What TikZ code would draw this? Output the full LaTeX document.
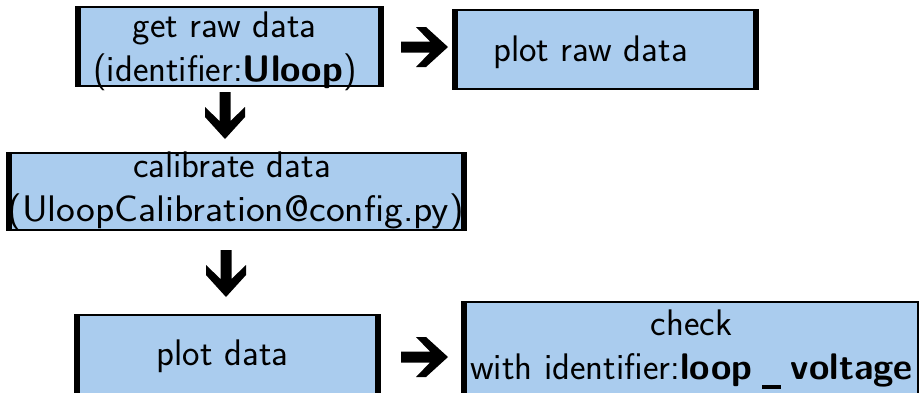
\documentclass[tikz,border=0pt]{standalone}
\usepackage{fontspec}
\definecolor{boxblue}{RGB}{170,204,238}
\tikzset{
  boxshape/.style={draw=black, line width=1.3pt, fill=boxblue, inner sep=0pt},
  sidebar/.style={fill=black},
  lbl/.style={font=\fontsize{37}{44}\selectfont\sffamily, inner sep=0pt, anchor=base},
  pics/heavyarrow/.style={code={
    \fill[black] (-47,-5.5) -- (-18,-5.5) -- (-32,-20) -- (-22,-20) -- (0,0)
      -- (-22,20) -- (-32,20) -- (-18,5.5) -- (-47,5.5) -- cycle;}}
}
\begin{document}
\begin{tikzpicture}[x=1pt,y=-1pt]
\useasboundingbox (0,0) rectangle (919,392);
\clip (0,0) rectangle (919,392);
% boxes
\node[boxshape, minimum width=307pt, minimum height=79pt] (b1) at (229.5,46.5) {};
\node[boxshape, minimum width=305pt, minimum height=79pt] (b2) at (605.5,49.5) {};
\node[boxshape, minimum width=459pt, minimum height=77pt] (b3) at (236.5,191.5) {};
\node[boxshape, minimum width=305pt, minimum height=100pt] (b4) at (227.5,365) {};
\node[boxshape, minimum width=460pt, minimum height=110pt] (b5) at (692,357) {};
% thick side bars
\foreach \b in {b1,b2,b3,b4,b5}{
  \fill[sidebar] (\b.north west) rectangle ([xshift=6pt]\b.south west);
  \fill[sidebar] (\b.north east) rectangle ([xshift=-6pt]\b.south east);
}
% texts
\node[lbl] (t1a) at (224.5,37) {get raw data};
\node[lbl] (t1b) at (225,81) {(identifier:\textbf{Uloop})};
\node[lbl] (t2) at (590.5,61) {plot raw data};
\node[lbl] (t3a) at (232,177) {calibrate data};
\node[lbl] (t3b) at (235.5,221) {\scalebox{1.08}[1]{(UloopCalibration@config.py)}};
\node[lbl] (t4) at (222.5,365) {plot data};
\node[lbl] (t5a) at (691.5,335) {check};
\node[lbl] (t5b) at (691.5,379) {with identifier:\textbf{loop}\kern0.27em\rule[-0.27em]{0.5em}{0.1em}\kern0.27em\textbf{voltage}};
% heavy arrows
\pic at (448,47) {heavyarrow};
\pic[rotate=-90] at (225,139) {heavyarrow};
\pic[rotate=-90] at (226,297) {heavyarrow};
\pic at (448,357) {heavyarrow};
\end{tikzpicture}
\end{document}
